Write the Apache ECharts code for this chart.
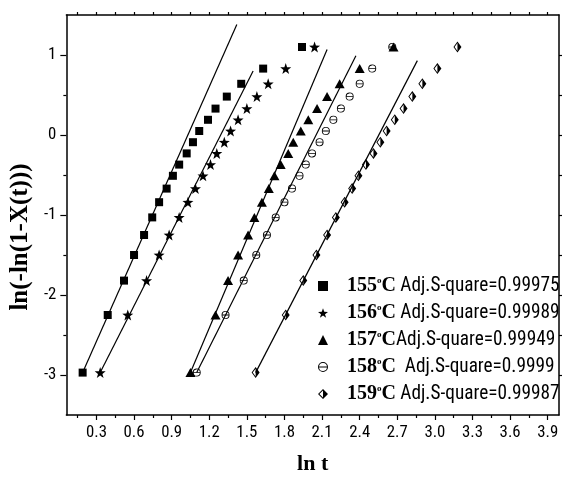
<!DOCTYPE html>
<html><head><meta charset="utf-8">
<script src="https://cdn.jsdelivr.net/npm/echarts@6/dist/echarts.min.js"></script>
<style>html,body{margin:0;padding:0;background:#fff}#c{width:563px;height:480px}</style>
</head><body><div id="c"></div>
<script>
// ---- data ----
const yLevels = [-2.97,-2.25,-1.82,-1.50,-1.25,-1.03,-0.84,-0.67,-0.51,-0.37,-0.23,-0.09,0.05,0.19,0.33,0.48,0.64,0.83,1.10];
const x155 = [0.19,0.39,0.52,0.60,0.68,0.745,0.80,0.86,0.91,0.96,1.02,1.07,1.12,1.19,1.25,1.34,1.455,1.63,1.94];
const x156 = [0.33,0.55,0.70,0.80,0.88,0.96,1.03,1.09,1.15,1.21,1.26,1.32,1.37,1.43,1.50,1.58,1.67,1.81,2.04];
const x157 = [1.05,1.25,1.35,1.43,1.51,1.56,1.62,1.675,1.72,1.77,1.83,1.87,1.93,1.99,2.06,2.14,2.24,2.40,2.67];
const x158 = [1.10,1.33,1.475,1.575,1.66,1.73,1.80,1.86,1.92,1.97,2.02,2.08,2.13,2.19,2.25,2.32,2.40,2.50,2.66];
const x159 = [1.57,1.81,1.95,2.055,2.14,2.21,2.28,2.34,2.39,2.45,2.51,2.565,2.615,2.68,2.75,2.82,2.90,3.02,3.18];
const fit155 = [[0.19,-2.97],[1.42,1.38]];
const fit156 = [[0.33,-2.97],[1.55,0.80]];
const fit157 = [[1.05,-2.97],[2.14,1.07]];
const fit158 = [[1.10,-2.97],[2.37,0.99]];
const fit159 = [[1.57,-2.97],[2.86,0.93]];
const tempLabels = ['155','156','157','158','159'];
const fitLabels = [' Adj.S-quare=0.99975',' Adj.S-quare=0.99989','Adj.S-quare=0.99949','  Adj.S-quare=0.9999',' Adj.S-quare=0.99987'];
const xTickLabels = [0.3,0.6,0.9,1.2,1.5,1.8,2.1,2.4,2.7,3.0,3.3,3.6,3.9];
const yTickLabels = [-3,-2,-1,0,1];

// ---- styling ----
const chart = echarts.init(document.getElementById('c'), null, {renderer:'canvas'});
const narrow = "'Liberation Sans Narrow','Arial Narrow','Roboto Condensed','Liberation Sans',sans-serif";
const serif = "'Liberation Serif','Times New Roman',serif";
// size the condensed-looking sans text so its width matches the reference
const mctx = document.createElement('canvas').getContext('2d');
function textW(size, fam, txt){ mctx.font = size + 'px ' + fam; return mctx.measureText(txt).width; }
const legendFs = Math.min(22, Math.round(10 * 100 * 159 / textW(100, narrow, 'Adj.S-quare=0.99949')) / 10);
const tickFs = Math.min(18, Math.round(10 * 100 * 21 / textW(100, narrow, '0.3')) / 10);

const STAR = 'path://M10,0 L12.35,6.76 L19.51,6.91 L13.80,11.24 L15.88,18.09 L10,14 L4.12,18.09 L6.20,11.24 L0.49,6.91 L7.65,6.76 Z';
const CIRC = 'path://M10,0 A10,10 0 1,1 10,20 A10,10 0 1,1 10,0 Z M17.94,9 A8,8 0 0,0 2.06,9 L17.94,9 Z M2.06,11 A8,8 0 0,0 17.94,11 L2.06,11 Z';
const HDIA = 'path://M10,0 L20,10 L10,20 L0,10 Z M10,2.83 L2.83,10 L10,17.17 Z';
const markers = [
  {symbol:'rect', size:8},
  {symbol:STAR, size:11},
  {symbol:'triangle', size:[10,9]},
  {symbol:CIRC, size:8},
  {symbol:HDIA, size:[8,11]}
];
const xs = [x155,x156,x157,x158,x159];
const fits = [fit155,fit156,fit157,fit158,fit159];
const names = tempLabels.map(t => t + '°C');

const series = [];
fits.forEach((f,i) => series.push({
  type:'line', name:'fit'+tempLabels[i], data:f, symbol:'none', silent:true,
  lineStyle:{color:'#000', width:1.2}, z:1
}));
xs.forEach((xv,i) => series.push({
  type:'scatter', name:names[i], data:xv.map((x,k)=>[x,yLevels[k]]),
  symbol:markers[i].symbol, symbolSize:markers[i].size,
  itemStyle:{color:'#000', opacity:1}, z:3
}));

const xMinor = xTickLabels.map(v => +(v-0.15).toFixed(2));
const xAll = xMinor.concat(xTickLabels);
const yMinor = [-2.5,-1.5,-0.5,0.5];
const yAll = yMinor.concat(yTickLabels);
const lineS = {show:true, onZero:false, lineStyle:{color:'#000', width:1.5}};
const noLine = {show:false, onZero:false};
const noLab = {show:false};
const XMIN = 0.06, XMAX = 3.99, YMIN = -3.5, YMAX = 1.5;

const option = {
  animation:false,
  backgroundColor:'#fff',
  grid:{left:65, right:4, top:15, bottom:61, containLabel:false},
  xAxis:[
    {type:'value', position:'bottom', min:XMIN, max:XMAX, axisLine:lineS, splitLine:{show:false},
     axisTick:{show:true, inside:false, length:5, customValues:xTickLabels, lineStyle:{color:'#000', width:1.2}},
     axisLabel:{show:true, customValues:xTickLabels, formatter:v=>v.toFixed(1), margin:9,
       color:'#000', fontFamily:narrow, fontSize:tickFs},
     name:'ln t', nameLocation:'middle', nameGap:38,
     nameTextStyle:{fontFamily:serif, fontWeight:'bold', fontSize:22, color:'#000'}},
    {type:'value', position:'bottom', min:XMIN, max:XMAX, axisLine:noLine, splitLine:{show:false},
     axisTick:{show:true, length:3, customValues:xMinor, lineStyle:{color:'#000', width:1.2}}, axisLabel:noLab},
    {type:'value', position:'top', min:XMIN, max:XMAX, axisLine:lineS, splitLine:{show:false},
     axisTick:{show:true, length:3, customValues:xAll, lineStyle:{color:'#000', width:1.2}}, axisLabel:noLab}
  ],
  yAxis:[
    {type:'value', position:'left', min:YMIN, max:YMAX, axisLine:lineS, splitLine:{show:false},
     axisTick:{show:true, length:6, customValues:yTickLabels, lineStyle:{color:'#000', width:1.2}},
     axisLabel:{show:true, customValues:yTickLabels, formatter:v=>String(v), margin:10,
       color:'#000', fontFamily:narrow, fontSize:tickFs},
     name:'ln(-ln(1-X(t)))', nameLocation:'middle', nameGap:32,
     nameTextStyle:{fontFamily:serif, fontWeight:'bold', fontSize:25, color:'#000', padding:[0,44,0,0]}},
    {type:'value', position:'left', min:YMIN, max:YMAX, axisLine:noLine, splitLine:{show:false},
     axisTick:{show:true, length:3, customValues:yMinor, lineStyle:{color:'#000', width:1.2}}, axisLabel:noLab},
    {type:'value', position:'right', min:YMIN, max:YMAX, axisLine:lineS, splitLine:{show:false},
     axisTick:{show:true, length:3, customValues:yAll, lineStyle:{color:'#000', width:1.2}}, axisLabel:noLab}
  ],
  legend:{
    data:names, orient:'vertical', left:318, top:276, itemWidth:10, itemHeight:10, itemGap:7,
    selectedMode:false, padding:0,
    formatter:function(name){
      const i = names.indexOf(name);
      return '{f|' + tempLabels[i] + '}{s|o}{t|C}{a|' + fitLabels[i] + '}';
    },
    textStyle:{color:'#000', rich:{
      f:{fontFamily:serif, fontWeight:'bold', fontSize:20, lineHeight:20, color:'#000', padding:[0,0,0,14]},
      t:{fontFamily:serif, fontWeight:'bold', fontSize:20, lineHeight:20, color:'#000'},
      s:{fontFamily:serif, fontWeight:'bold', fontSize:9, lineHeight:20, color:'#000', verticalAlign:'top', padding:[0,0,6,0]},
      a:{fontFamily:narrow, fontSize:legendFs, lineHeight:20, color:'#000'}
    }}
  },
  series:series
};
chart.setOption(option);
</script>
</body></html>
